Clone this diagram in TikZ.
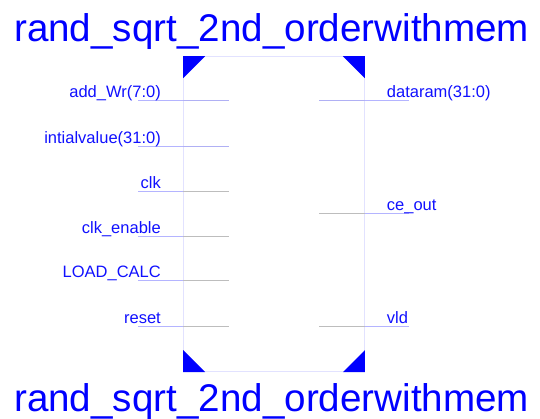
\documentclass[tikz,border=0pt]{standalone}
\usepackage{fontspec}
\setmainfont{Liberation Sans}
\definecolor{txtblue}{HTML}{1010FF}
\definecolor{triblue}{HTML}{0000FF}
\definecolor{boxline}{HTML}{E2E2FF}
\definecolor{pinout}{HTML}{B4B4FF}
\definecolor{pinbus}{HTML}{B0B0F4}
\definecolor{pinbit}{HTML}{BDBDBD}
\tikzset{
  title/.style={text=triblue, inner sep=0pt, font=\fontsize{38.6}{44}\selectfont},
  lbl/.style={text=txtblue, inner sep=0pt, font=\fontsize{16.5}{19}\selectfont},
  lblL/.style={lbl, anchor=base east},
  lblR/.style={lbl, anchor=base west},
  outer/.style={draw=pinout, line width=1pt},
  bus/.style={draw=pinbus, line width=1pt},
  bit/.style={draw=pinbit, line width=1pt},
  corner/.style={fill=triblue},
}
\begin{document}
\begin{tikzpicture}[x=1pt, y=-1pt]
  \useasboundingbox (0,0) rectangle (540,419);

  % block body
  \node[draw=boxline, line width=1pt, minimum width=180.6pt, minimum height=315pt, inner sep=0pt]
    (blk) at (274,214.2) {};

  % corner marks
  \fill[corner] (blk.north west) -- ++(22,0) -- ++(-22,22) -- cycle;
  \fill[corner] (blk.north east) -- ++(-22,0) -- ++(22,22) -- cycle;
  \fill[corner] (blk.south west) -- ++(22,0) -- ++(-22,-22) -- cycle;
  \fill[corner] (blk.south east) -- ++(-22,0) -- ++(22,-22) -- cycle;

  % titles
  \node[title, anchor=base west] (ttop) at (14,41.7) {rand\_sqrt\_2nd\_orderwithmem};
  \node[title, anchor=base west] (tbot) at (14,411.7) {rand\_sqrt\_2nd\_orderwithmem};

  % input pins: name / y / inner style
  \foreach \n/\y/\s in {addwr/101/bus, initv/146.5/bus, clk/191.5/bit,
                        clken/236.5/bit, load/281/bit, rst/326/bit} {
    \coordinate (\n-o) at (138,\y);
    \coordinate (\n-e) at (blk.west |- 0,\y);
    \coordinate (\n-i) at (229,\y);
    \draw[outer] (\n-o) -- (\n-e);
    \draw[\s] (\n-e) -- (\n-i);
  }
  % output pins
  \foreach \n/\y/\s in {dram/101/bus, ceout/214/bit, vld/326/bit} {
    \coordinate (\n-i) at (319,\y);
    \coordinate (\n-e) at (blk.east |- 0,\y);
    \coordinate (\n-o) at (409,\y);
    \draw[\s] (\n-i) -- (\n-e);
    \draw[outer] (\n-e) -- (\n-o);
  }

  % pin names
  \node[lblL] (l1) at (161,98)    {add\_Wr(7:0)};
  \node[lblL] (l2) at (161,143.5) {intialvalue(31:0)};
  \node[lblL] (l3) at (161,188.5) {clk};
  \node[lblL] (l4) at (161,233.5) {clk\_enable};
  \node[lblL] (l5) at (161,278)   {LOAD\_CALC};
  \node[lblL] (l6) at (161,323)   {reset};
  \node[lblR] (r1) at (386.7,98)  {dataram(31:0)};
  \node[lblR] (r2) at (386.7,211) {ce\_out};
  \node[lblR] (r3) at (386.7,323) {vld};
\end{tikzpicture}
\end{document}
